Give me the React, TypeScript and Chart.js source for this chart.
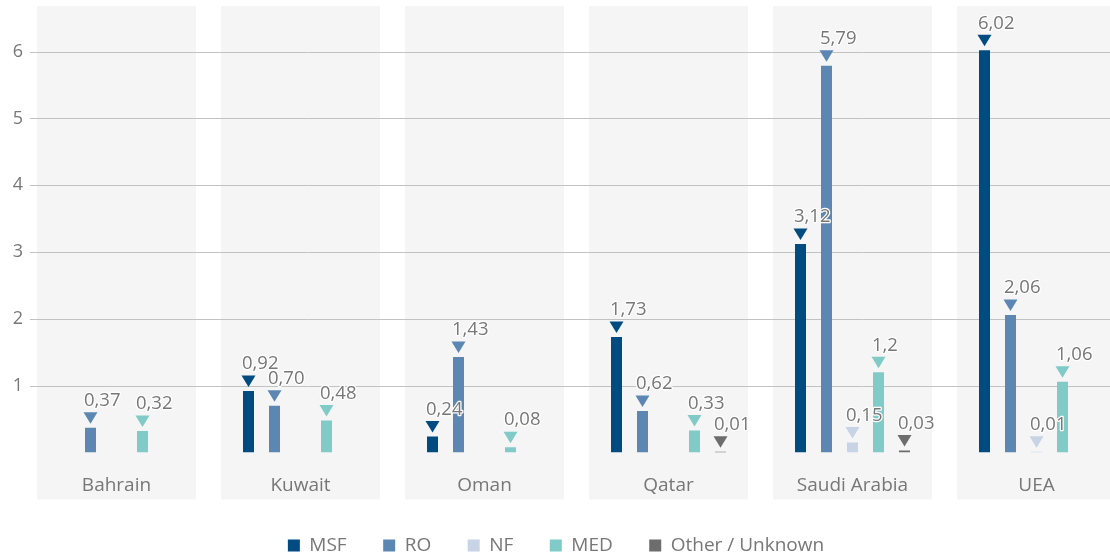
import { useEffect, useRef } from 'react';
import { Chart, registerables } from 'chart.js';

Chart.register(...registerables);

// Countries on the category axis
const categories = ['Bahrain', 'Kuwait', 'Oman', 'Qatar', 'Saudi Arabia', 'UEA'];

// Series values per country (null = no entry)
const msf = [null, 0.92, 0.24, 1.73, 3.12, 6.02];
const ro = [0.37, 0.7, 1.43, 0.62, 5.79, 2.06];
const nf = [null, null, null, null, 0.15, 0.01];
const med = [0.32, 0.48, 0.08, 0.33, 1.2, 1.06];
const other = [null, null, null, 0.01, 0.03, null];

const seriesNames = ['MSF', 'RO', 'NF', 'MED', 'Other / Unknown'];
const seriesColors = ['#004b80', '#5b87b2', '#c8d3e5', '#80cbc7', '#6d6d6d'];
const seriesValues = [msf, ro, nf, med, other];

// Value axis ticks
const yTicks = [1, 2, 3, 4, 5, 6];

const FONT = '"Open Sans", "Noto Sans", sans-serif';
const TEXT = '#777777';
const PANEL = '#f5f5f5';
const GRID = '#c2c2c2';

// Decimal comma; values below one keep two decimals
function formatValue(v: number): string {
  const txt = v < 1 ? v.toFixed(2) : String(v);
  return txt.replace('.', ',');
}

const decorPlugin = {
  id: 'decor',
  afterLayout(chart: any) {
    const lg = chart.legend;
    if (!lg) return;
    const dx = 556 - (lg.left + lg.right) / 2;
    lg.left += dx;
    lg.right += dx;
  },
  beforeDraw(chart: any) {
    const { ctx, chartArea } = chart;
    const x = chart.scales.x;
    const y = chart.scales.y;
    const n = x.getLabels().length;
    const catW = (x.right - x.left) / n;
    const panelW = catW - 25;
    ctx.save();
    // grey panel behind each country group
    ctx.fillStyle = PANEL;
    for (let i = 0; i < n; i++) {
      const cx = x.getPixelForValue(i);
      ctx.fillRect(cx - panelW / 2, chartArea.top, panelW, x.bottom - chartArea.top);
    }
    // horizontal gridlines
    ctx.strokeStyle = GRID;
    ctx.lineWidth = 1;
    for (const t of yTicks) {
      const py = Math.round(y.getPixelForValue(t)) + 0.5;
      ctx.beginPath();
      ctx.moveTo(30, py);
      ctx.lineTo(chart.width, py);
      ctx.stroke();
    }
    ctx.restore();
  },
  afterDatasetsDraw(chart: any) {
    const { ctx } = chart;
    const marks: { x: number; y: number; w: number; v: number }[] = [];
    ctx.save();
    chart.data.datasets.forEach((ds: any, di: number) => {
      const meta = chart.getDatasetMeta(di);
      ctx.fillStyle = ds.backgroundColor;
      meta.data.forEach((el: any, i: number) => {
        const v = ds.data[i];
        if (v === null || v === undefined) return;
        const p = el.getProps(['x', 'y', 'width'], true);
        // downward triangle marker above the bar
        ctx.beginPath();
        ctx.moveTo(p.x - 7, p.y - 15.5);
        ctx.lineTo(p.x + 7, p.y - 15.5);
        ctx.lineTo(p.x, p.y - 4);
        ctx.closePath();
        ctx.fill();
        marks.push({ x: p.x, y: p.y, w: p.width, v });
      });
    });
    // value labels
    ctx.font = `18.5px ${FONT}`;
    ctx.textAlign = 'left';
    ctx.textBaseline = 'alphabetic';
    ctx.lineJoin = 'round';
    for (const m of marks) {
      const txt = formatValue(m.v);
      const tx = m.x - m.w / 2 - 1;
      const ty = m.y - 21.7;
      ctx.strokeStyle = '#ffffff';
      ctx.lineWidth = 2.5;
      ctx.strokeText(txt, tx, ty);
      ctx.fillStyle = TEXT;
      ctx.fillText(txt, tx, ty);
    }
    ctx.restore();
  },
};

export default function App() {
  const canvasRef = useRef<HTMLCanvasElement | null>(null);

  useEffect(() => {
    if (!canvasRef.current) return;
    const chart = new Chart(canvasRef.current, {
      type: 'bar',
      data: {
        labels: categories,
        datasets: seriesNames.map((name, i) => ({
          label: name,
          data: seriesValues[i],
          backgroundColor: seriesColors[i],
          borderWidth: 0,
          categoryPercentage: 0.7065,
          barPercentage: 0.4231,
        })),
      },
      options: {
        animation: false,
        responsive: true,
        maintainAspectRatio: false,
        events: [],
        layout: { padding: { top: 6, right: 11.5, left: 0, bottom: 0 } },
        plugins: {
          tooltip: { enabled: false },
          legend: {
            position: 'bottom',
            labels: {
              boxWidth: 12,
              boxHeight: 12,
              padding: 36.5,
              color: TEXT,
              font: { family: FONT, size: 19 },
            },
          },
        },
        scales: {
          x: {
            grid: { display: false, drawTicks: false },
            border: { display: false },
            ticks: {
              color: TEXT,
              font: { family: FONT, size: 19 },
              padding: 22,
              maxRotation: 0,
            },
            afterFit: (s: any) => {
              s.height = 47;
              s.paddingLeft = 0;
              s.paddingRight = 0;
            },
          },
          y: {
            min: 0,
            max: 6.684,
            grid: { display: false, drawTicks: false },
            border: { display: false },
            ticks: {
              color: TEXT,
              font: { family: FONT, size: 18 },
              padding: 1.5,
            },
            afterBuildTicks: (s: any) => {
              s.ticks = yTicks.map((v) => ({ value: v }));
            },
            afterFit: (s: any) => {
              s.width = 24.5;
              s.paddingTop = 0;
              s.paddingBottom = 0;
            },
          },
        },
      },
      plugins: [decorPlugin],
    });
    return () => chart.destroy();
  }, []);

  return (
    <div
      style={{
        position: 'fixed',
        left: 0,
        top: 0,
        width: 1110,
        height: 557,
        overflow: 'hidden',
        background: '#ffffff',
      }}
    >
      <div style={{ position: 'relative', width: 1140, height: 565 }}>
        <canvas ref={canvasRef} />
      </div>
    </div>
  );
}
